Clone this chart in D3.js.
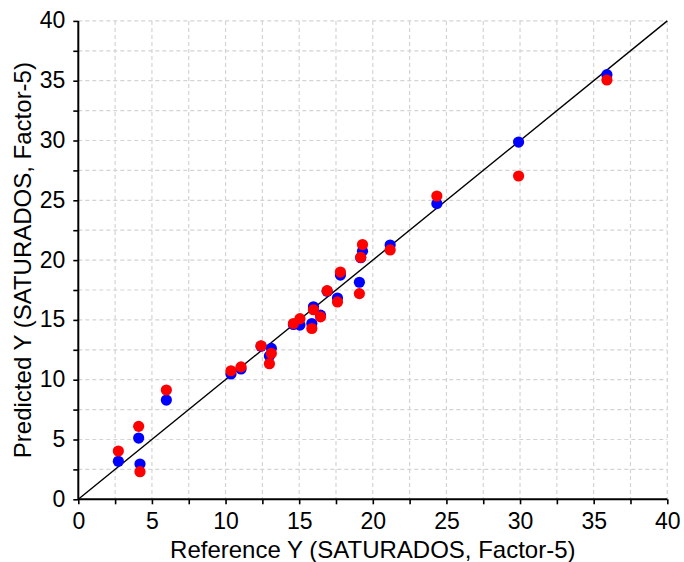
<!DOCTYPE html>
<html>
<head>
<meta charset="utf-8">
<script src="https://cdn.jsdelivr.net/npm/d3@7"></script>
<style>
  html, body { margin: 0; padding: 0; background: #fff; }
  svg { display: block; font-family: "Liberation Sans", Arial, sans-serif; }
</style>
</head>
<body>
<svg id="chart" width="684" height="562"></svg>
<script>
// Reference values and the two sets of predicted values (SATURADOS, 5 factors)
const referenceY = [2.72, 4.10, 4.19, 5.98, 10.37, 11.05, 12.41, 13.11, 12.98, 14.61, 15.05,
                    15.97, 15.86, 16.45, 16.90, 17.60, 17.80, 19.09, 19.30, 19.18, 21.18,
                    24.35, 29.90, 35.90];
const predictedBlue = [3.18, 5.12, 2.95, 8.30, 10.48, 10.90, 12.80, 12.62, 11.98, 14.62, 14.57,
                       16.10, 14.70, 15.40, 17.40, 16.83, 18.75, 18.15, 20.75, 20.20, 21.26,
                       24.72, 29.87, 35.50];
const predictedRed = [4.04, 6.10, 2.31, 9.14, 10.75, 11.07, 12.84, 12.20, 11.34, 14.70, 15.10,
                      15.85, 14.28, 15.25, 17.44, 16.50, 19.00, 17.20, 21.30, 20.23, 20.85,
                      25.36, 27.03, 35.06];
const axisTicks = [0, 5, 10, 15, 20, 25, 30, 35, 40];
const minorTicks = d3.range(0, 40.01, 2.5);
const xTitle = "Reference Y (SATURADOS, Factor-5)";
const yTitle = "Predicted Y (SATURADOS, Factor-5)";

const svg = d3.select("#chart");
const plotLeft = 78.3, plotTop = 20.9, plotRight = 667.3, plotBottom = 499.3;

const x = d3.scaleLinear().domain([0, 40]).range([plotLeft, plotRight]);
const y = d3.scaleLinear().domain([0, 40]).range([plotBottom, plotTop]);

// dashed grid every 2.5 units
const grid = svg.append("g").attr("stroke", "#d4d4d4").attr("stroke-width", 1.2)
  .attr("stroke-dasharray", "4,3");
grid.selectAll(".gx").data(minorTicks.filter(d => d > 0)).join("line")
  .attr("x1", d => x(d)).attr("x2", d => x(d)).attr("y1", plotTop).attr("y2", plotBottom);
grid.selectAll(".gy").data(minorTicks.filter(d => d > 0)).join("line")
  .attr("y1", d => y(d)).attr("y2", d => y(d)).attr("x1", plotLeft).attr("x2", plotRight);

// 1:1 line
svg.append("line")
  .attr("x1", x(0)).attr("y1", y(0)).attr("x2", x(40)).attr("y2", y(40))
  .attr("stroke", "#000").attr("stroke-width", 1.4);

// points: blue set first, red drawn over it
const pts = svg.append("g");
pts.selectAll(".b").data(referenceY).join("circle")
  .attr("cx", d => x(d)).attr("cy", (d, i) => y(predictedBlue[i]))
  .attr("r", 5.6).attr("fill", "#0000ff");
pts.selectAll(".r").data(referenceY).join("circle")
  .attr("cx", d => x(d)).attr("cy", (d, i) => y(predictedRed[i]))
  .attr("r", 5.6).attr("fill", "#ff0000");

// axes
const fmt = d => axisTicks.includes(d) ? d3.format("d")(d) : "";
const xAxis = d3.axisBottom(x).tickValues(minorTicks).tickSize(5).tickFormat(fmt);
const yAxis = d3.axisLeft(y).tickValues(minorTicks).tickSize(5).tickFormat(fmt);

const gx = svg.append("g").attr("transform", `translate(0,${plotBottom})`).call(xAxis);
const gy = svg.append("g").attr("transform", `translate(${plotLeft},0)`).call(yAxis);
[gx, gy].forEach(g => {
  g.select(".domain").attr("stroke", "#000").attr("stroke-width", 2);
  g.selectAll(".tick line").attr("stroke", "#000").attr("stroke-width", 1.6);
  g.selectAll(".tick text").attr("fill", "#000").attr("font-size", 23)
    .attr("font-family", "Liberation Sans, Arial, sans-serif");
});
gx.select(".domain").attr("d", `M${plotLeft},0H${plotRight}`);
gy.select(".domain").attr("d", `M0,${plotBottom}V${plotTop}`);
gx.selectAll(".tick text").attr("dy", "0.71em").attr("y", 13);
gy.selectAll(".tick text").attr("x", -13).attr("dy", "0.3em");

// axis titles
svg.append("text").attr("x", (plotLeft + plotRight) / 2).attr("y", 558)
  .attr("text-anchor", "middle").attr("font-size", 24).attr("fill", "#000")
  .text(xTitle);
svg.append("text")
  .attr("transform", `translate(31,${(plotTop + plotBottom) / 2}) rotate(-90)`)
  .attr("text-anchor", "middle").attr("font-size", 24).attr("fill", "#000")
  .text(yTitle);
</script>
</body>
</html>
